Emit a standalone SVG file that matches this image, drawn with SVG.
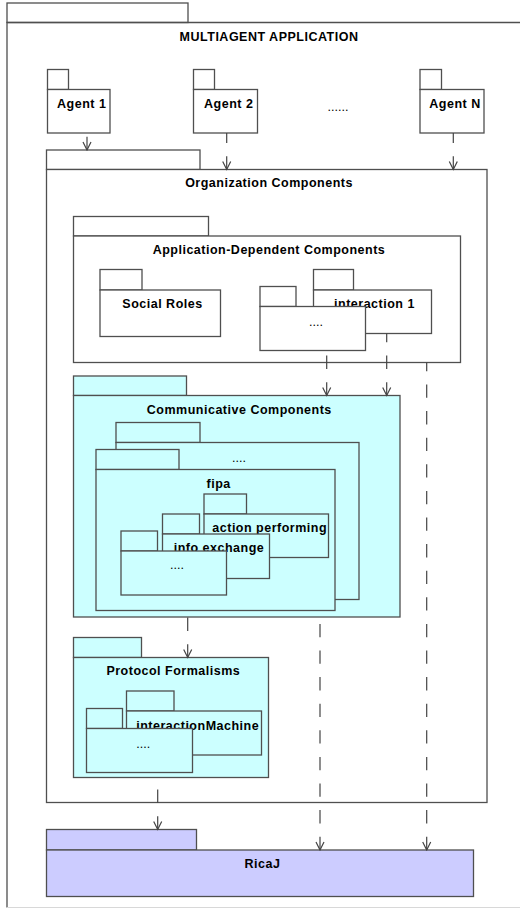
<svg xmlns="http://www.w3.org/2000/svg" width="520" height="909" viewBox="0 0 520 909">
<style>
.pk{fill:#ffffff;stroke:#4f4f4f;stroke-width:1.3}
.cy{fill:#ccffff}
.lv{fill:#ccccff}
.t{font-family:"Liberation Sans",Arial,sans-serif;font-size:12.5px;font-weight:bold;letter-spacing:0.5px;fill:#000;text-anchor:middle}
.d{font-family:"Liberation Sans",Arial,sans-serif;font-size:12.5px;fill:#000;text-anchor:middle}
.dep{fill:none;stroke:#444;stroke-width:1.2;stroke-dasharray:13.3 13.3;marker-start:url(#arr)}
</style>
<defs>
<marker id="arr" markerUnits="userSpaceOnUse" markerWidth="10" markerHeight="10" viewBox="-9 -5 10 10" refX="0" refY="0" orient="auto-start-reverse">
<path d="M-8,-4 L0,0 L-8,4" fill="none" stroke="#444" stroke-width="1.2"/>
</marker>
</defs>
<rect width="520" height="909" fill="#ffffff"/>

<g id="multiagent-application">
<rect class="pk" x="7" y="3" width="181" height="19.5"/>
<path d="M7,907.5 V22.5 H521" fill="none" stroke="#4f4f4f" stroke-width="1.3"/>
<path d="M7,907.5 H521" fill="none" stroke="#d8d8d8" stroke-width="1"/>
<text class="t" x="269" y="41">MULTIAGENT APPLICATION</text>
</g>

<g id="agent-1">
<rect class="pk" x="47.5" y="69.5" width="21" height="20"/>
<rect class="pk" x="47.5" y="89.5" width="62.5" height="43.5"/>
<text class="t" x="81.7" y="107.5">Agent 1</text>
</g>
<g id="agent-2">
<rect class="pk" x="193.5" y="69.5" width="21" height="20"/>
<rect class="pk" x="193.5" y="89.5" width="64" height="43.5"/>
<text class="t" x="228.7" y="107.5">Agent 2</text>
</g>
<g id="agent-dots">
<text class="d" x="338" y="110.5">......</text>
</g>
<g id="agent-n">
<rect class="pk" x="420" y="69.5" width="21.5" height="20"/>
<rect class="pk" x="420" y="89.5" width="64" height="43.5"/>
<text class="t" x="455" y="107.5">Agent N</text>
</g>

<g id="organization-components">
<rect class="pk" x="46.5" y="150" width="153.5" height="19.5"/>
<rect class="pk" x="46.5" y="169.5" width="440.5" height="633"/>
<text class="t" x="269" y="187">Organization Components</text>
</g>

<g id="application-dependent-components">
<rect class="pk" x="73.5" y="216.5" width="135" height="19.5"/>
<rect class="pk" x="73.5" y="236" width="387" height="126.5"/>
<text class="t" x="269" y="254">Application-Dependent Components</text>
</g>
<g id="social-roles">
<rect class="pk" x="100" y="269.5" width="42" height="20.5"/>
<rect class="pk" x="100" y="290" width="120.5" height="46.5"/>
<text class="t" x="162.5" y="307.5">Social Roles</text>
</g>
<g id="interaction-1">
<rect class="pk" x="313.5" y="269.5" width="40" height="20.5"/>
<rect class="pk" x="313.5" y="290" width="118" height="43.5"/>
<text class="t" x="374.5" y="307.5">interaction 1</text>
</g>
<g id="app-dots">
<rect class="pk" x="260" y="286.5" width="36" height="20"/>
<rect class="pk" x="260" y="306.5" width="105.5" height="44"/>
<text class="d" x="316" y="325.5">....</text>
</g>

<g id="communicative-components">
<rect class="pk cy" x="73.5" y="376" width="113" height="19.5"/>
<rect class="pk cy" x="73.5" y="395.5" width="326.5" height="221.5"/>
<text class="t" x="239.3" y="414">Communicative Components</text>
</g>
<g id="comm-dots">
<rect class="pk cy" x="116" y="422.5" width="84" height="20"/>
<rect class="pk cy" x="116" y="442.5" width="243" height="157"/>
<text class="d" x="239" y="461.5">....</text>
</g>
<g id="fipa">
<rect class="pk cy" x="96" y="449.5" width="83" height="20"/>
<rect class="pk cy" x="96" y="469.5" width="239" height="141"/>
<text class="t" x="218.7" y="488">fipa</text>
</g>
<g id="action-performing">
<rect class="pk cy" x="204" y="494" width="42.5" height="20"/>
<rect class="pk cy" x="204" y="514" width="124.5" height="43.5"/>
<text class="t" x="269.7" y="532">action performing</text>
</g>
<g id="info-exchange">
<rect class="pk cy" x="162.5" y="514" width="37" height="20"/>
<rect class="pk cy" x="162.5" y="534" width="107" height="44.5"/>
<text class="t" x="219" y="551.7">info exchange</text>
</g>
<g id="fipa-dots">
<rect class="pk cy" x="121" y="531" width="36.5" height="20"/>
<rect class="pk cy" x="121" y="551" width="105.5" height="44"/>
<text class="d" x="177" y="568.5">....</text>
</g>

<g id="protocol-formalisms">
<rect class="pk cy" x="73.5" y="637.5" width="68" height="20"/>
<rect class="pk cy" x="73.5" y="657.5" width="195" height="120"/>
<text class="t" x="173.3" y="675">Protocol Formalisms</text>
</g>
<g id="interaction-machine">
<rect class="pk cy" x="126.5" y="691" width="47.5" height="20"/>
<rect class="pk cy" x="126.5" y="711" width="135" height="44"/>
<text class="t" x="197.7" y="730">interactionMachine</text>
</g>
<g id="protocol-dots">
<rect class="pk cy" x="86.5" y="708.5" width="36" height="20"/>
<rect class="pk cy" x="86.5" y="728.5" width="106" height="44"/>
<text class="d" x="143.3" y="747.5">....</text>
</g>

<g id="ricaj">
<rect class="pk lv" x="46.5" y="829.5" width="150" height="20.5"/>
<rect class="pk lv" x="46.5" y="850" width="427" height="46.5"/>
<text class="t" x="262.5" y="867.5">RicaJ</text>
</g>

<g id="connectors">
<path class="dep" d="M87,150 V133"/>
<path class="dep" d="M226.7,169.5 V133"/>
<path class="dep" d="M453.3,169.5 V133"/>
<path class="dep" d="M326.7,395.5 V350.5"/>
<path class="dep" d="M386.7,395.5 V333.5"/>
<path class="dep" d="M426.7,850 V362.5"/>
<path class="dep" d="M187.7,657.5 V617"/>
<path class="dep" d="M320,850 V617"/>
<path class="dep" d="M157.7,829.5 V777.5"/>
</g>
</svg>
